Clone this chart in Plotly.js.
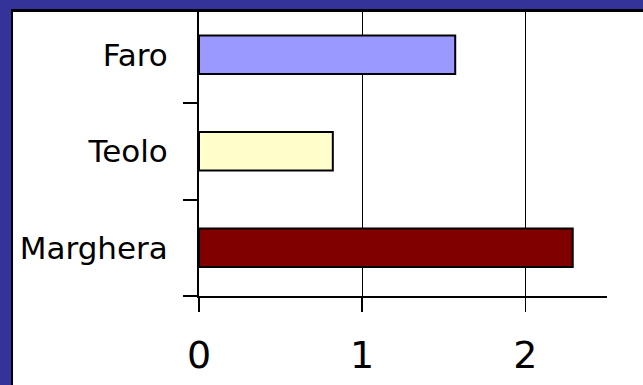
<!DOCTYPE html>
<html>
<head>
<meta charset="utf-8">
<script src="https://cdn.plot.ly/plotly-3.0.1.min.js"></script>
<style>
  html, body { margin: 0; padding: 0; background: #ffffff; }
  #wrap { position: relative; width: 643px; height: 385px; overflow: hidden; background: #ffffff; }
  #chart { position: absolute; left: 0; top: 0; width: 643px; height: 385px; }
  .frame { position: absolute; pointer-events: none; z-index: 10; }
</style>
</head>
<body>
<div id="wrap">
  <div id="chart"></div>
  <div class="frame" style="left:0;top:0;width:643px;height:9px;background:#333399;"></div>
  <div class="frame" style="left:0;top:0;width:11px;height:385px;background:#333399;"></div>
  <div class="frame" style="left:11px;top:9px;width:632px;height:3px;background:#000000;"></div>
  <div class="frame" style="left:11px;top:9px;width:2px;height:376px;background:#000000;"></div>
</div>
<script>
// Data (bottom to top as drawn)
const categories = ["Marghera", "Teolo", "Faro"];
const values = [2.29, 0.82, 1.57];
const barColors = ["#800000", "#FFFFCC", "#9999FF"];
const xTickValues = [0, 1, 2];
const xTickLabels = ["0", "1", "2"];

const trace = {
  type: "bar",
  orientation: "h",
  y: categories,
  x: values,
  marker: { color: barColors, line: { color: "#000000", width: 2 } },
  hoverinfo: "x+y"
};

const layout = {
  width: 643,
  height: 385,
  margin: { l: 199, r: 36, t: 12, b: 89, pad: 0 },
  paper_bgcolor: "rgba(0,0,0,0)",
  plot_bgcolor: "rgba(0,0,0,0)",
  showlegend: false,
  bargap: 0.6,
  font: { family: "DejaVu Sans, Arial, sans-serif", color: "#000000" },
  xaxis: {
    range: [0, 2.5],
    tickmode: "array",
    tickvals: xTickValues,
    ticktext: xTickLabels,
    showgrid: true,
    gridcolor: "#000000",
    gridwidth: 1.2,
    zeroline: false,
    showline: true,
    linecolor: "#000000",
    linewidth: 2,
    ticks: "outside",
    ticklen: 14,
    tickwidth: 1.5,
    tickcolor: "#000000",
    tickfont: { size: 38, family: "DejaVu Sans, Arial, sans-serif", color: "#000000" },
    ticklabelstandoff: 10,
    fixedrange: true
  },
  yaxis: {
    type: "category",
    categoryorder: "array",
    categoryarray: categories,
    range: [-0.5, 2.443],
    showgrid: false,
    zeroline: false,
    showline: true,
    linecolor: "#000000",
    linewidth: 2,
    ticks: "outside",
    tickson: "boundaries",
    ticklen: 14,
    tickwidth: 2,
    tickcolor: "#000000",
    tickfont: { size: 31, family: "DejaVu Sans, Arial, sans-serif", color: "#000000" },
    ticklabelstandoff: 23,
    fixedrange: true
  }
};

Plotly.newPlot("chart", [trace], layout, { displayModeBar: false, staticPlot: true });
</script>
</body>
</html>
